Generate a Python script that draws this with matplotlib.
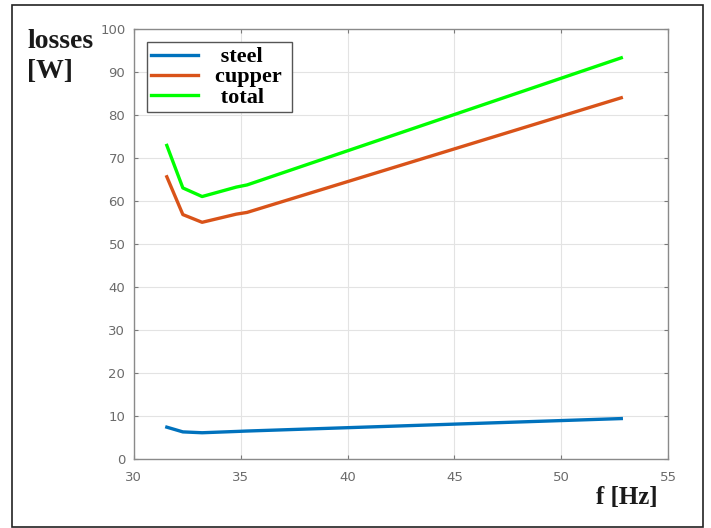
import matplotlib
matplotlib.use("Agg")
import matplotlib.pyplot as plt
from matplotlib.patches import Rectangle

# frequency [Hz] and losses [W]
freq = [31.55, 32.3, 33.2, 34.8, 35.3, 52.8]
steel = [7.3, 6.2, 6.0, 6.3, 6.4, 9.3]
cupper = [65.6, 56.8, 55.0, 56.9, 57.3, 84.0]
total = [72.9, 63.0, 61.0, 63.2, 63.7, 93.3]
labels = [" steel", "cupper ", " total"]

x_ticks = [30, 35, 40, 45, 50, 55]
y_ticks = list(range(0, 101, 10))

BLUE = "#0072BD"
ORANGE = "#D95319"
GREEN = "#00FF00"
TICK = "#6b6b6b"
INK = "#1a1a1a"
SERIF = ["Liberation Serif", "DejaVu Serif"]

fig = plt.figure(figsize=(7.11, 5.28), dpi=100)
ax = fig.add_axes([0.188, 0.1316, 0.752, 0.8134])

ax.plot(freq, steel, color=BLUE, linewidth=2.4, label=labels[0])
ax.plot(freq, cupper, color=ORANGE, linewidth=2.4, label=labels[1])
ax.plot(freq, total, color=GREEN, linewidth=2.4, label=labels[2])

ax.set_xlim(30, 55)
ax.set_ylim(0, 100)
ax.set_xticks(x_ticks)
ax.set_yticks(y_ticks)
ax.grid(True, color="#e3e3e3", linewidth=0.8)
ax.set_axisbelow(True)
ax.tick_params(direction="in", length=3, colors="#7a7a7a", labelcolor=TICK,
               labelsize=9.5, top=True, right=True)
ax.tick_params(axis="x", pad=9)
ax.tick_params(axis="y", pad=6)
for sp in ax.spines.values():
    sp.set_color("#8a8a8a")
    sp.set_linewidth(1.0)

leg = ax.legend(loc="upper left", bbox_to_anchor=(0.024, 0.969), borderaxespad=0,
                prop={"family": SERIF, "weight": "bold", "size": 16},
                handlelength=2.1, handletextpad=0.8, labelspacing=-0.02,
                borderpad=0.2, fancybox=False, framealpha=1)
leg.get_frame().set_edgecolor("#555555")
leg.get_frame().set_linewidth(1.0)

fig.text(0.038, 0.893, "losses\n[W]", family=SERIF, weight="bold", fontsize=20,
         color=INK, ha="left", va="center", linespacing=1.3)
fig.text(0.881, 0.057, "f [Hz]", family=SERIF, weight="bold", fontsize=18,
         color=INK, ha="center", va="center")

# thin frame round the whole picture
fig.patches.append(Rectangle((12 / 711, 0.002), 691 / 711, 1 - 5 / 528 - 0.002,
                             transform=fig.transFigure, fill=False,
                             edgecolor="#222222", linewidth=1.2))

fig.savefig("out.png", dpi=100)
